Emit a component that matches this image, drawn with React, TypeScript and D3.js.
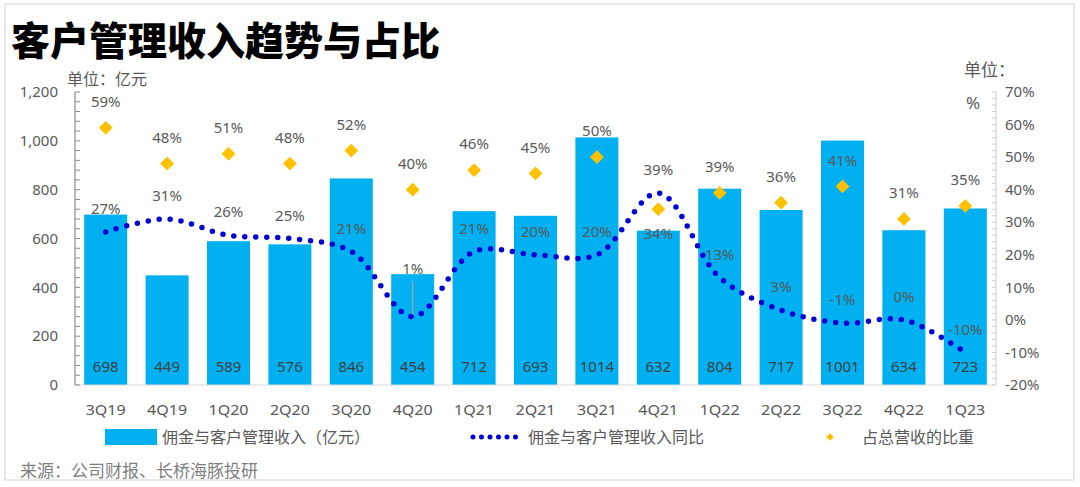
import { useEffect, useRef } from "react";
import * as d3 from "d3";

// quarters shown on the x axis
const quarters = [
  "3Q19", "4Q19", "1Q20", "2Q20", "3Q20", "4Q20", "1Q21", "2Q21",
  "3Q21", "4Q21", "1Q22", "2Q22", "3Q22", "4Q22", "1Q23",
];
// 佣金与客户管理收入（亿元）
const revenue = [698, 449, 589, 576, 846, 454, 712, 693, 1014, 632, 804, 717, 1001, 634, 723];
// 同比 (%)
const yoy = [27, 31, 26, 25, 21, 1, 21, 20, 20, 39, 13, 3, -1, 0, -10];
// 占总营收的比重 (%)
const share = [59, 48, 51, 48, 52, 40, 46, 45, 50, 34, 39, 36, 41, 31, 35];

const leftTicks = [0, 200, 400, 600, 800, 1000, 1200];
const rightTicks = [-20, -10, 0, 10, 20, 30, 40, 50, 60, 70];

const W = 1080;
const H = 487;
const FONT = "'Noto Sans CJK SC', 'Noto Sans', sans-serif";
const NUM_FONT = "'Noto Sans', 'Noto Sans CJK SC', sans-serif";
const GRAY = "#595959";
const BAR = "#00b0f0";
const LINE = "#0000d8";
const DIAMOND = "#ffc000";

export default function App() {
  const svgRef = useRef<SVGSVGElement>(null);

  useEffect(() => {
    if (!svgRef.current) return;
    const svg = d3.select(svgRef.current);
    svg.selectAll("*").remove();

    const margin = { top: 92, right: 84, bottom: 102, left: 75 };
    const innerW = W - margin.left - margin.right;
    const innerH = H - margin.top - margin.bottom;

    // frame
    svg.append("rect")
      .attr("x", 5).attr("y", 4).attr("width", 1069).attr("height", 476)
      .attr("fill", "white").attr("stroke", "#d9d9d9").attr("stroke-width", 1.2);

    // title
    svg.append("text")
      .attr("x", 11).attr("y", 55)
      .attr("font-family", FONT).attr("font-size", 39).attr("font-weight", 900)
      .attr("fill", "#000").text("客户管理收入趋势与占比");

    svg.append("text")
      .attr("x", 67).attr("y", 85)
      .attr("font-family", FONT).attr("font-size", 16).attr("fill", GRAY)
      .text("单位：亿元");
    svg.append("text")
      .attr("x", 964).attr("y", 76)
      .attr("font-family", FONT).attr("font-size", 17).attr("fill", GRAY)
      .text("单位：");
    svg.append("text")
      .attr("x", 966).attr("y", 109)
      .attr("font-family", NUM_FONT).attr("font-size", 17).attr("fill", GRAY)
      .text("%");

    const x = d3.scaleBand<string>().domain(quarters).range([0, innerW]).paddingInner(0.3).paddingOuter(0.15);
    const y = d3.scaleLinear().domain([0, 1200]).range([innerH, 0]);
    const y2 = d3.scaleLinear().domain([-20, 70]).range([innerH, 0]);
    const cx = (q: string) => (x(q) ?? 0) + x.bandwidth() / 2;

    const g = svg.append("g").attr("transform", `translate(${margin.left},${margin.top})`);

    // bars
    g.selectAll("rect.bar")
      .data(revenue)
      .join("rect")
      .attr("class", "bar")
      .attr("x", (_, i) => x(quarters[i]) ?? 0)
      .attr("y", (d) => y(d))
      .attr("width", x.bandwidth())
      .attr("height", (d) => innerH - y(d))
      .attr("fill", BAR);

    // bottom axis line
    g.append("line")
      .attr("x1", 0).attr("x2", innerW).attr("y1", innerH).attr("y2", innerH)
      .attr("stroke", "#d9d9d9").attr("stroke-width", 1);

    // left axis: line with minor ticks inside
    const leftAxis = g.append("g");
    leftAxis.append("line")
      .attr("x1", 0).attr("x2", 0).attr("y1", 0).attr("y2", innerH)
      .attr("stroke", "#8c8c8c").attr("stroke-width", 1.2);
    leftAxis.selectAll("line.minor")
      .data(d3.range(0, 1201, 40))
      .join("line")
      .attr("class", "minor")
      .attr("x1", 0).attr("x2", 5)
      .attr("y1", (d) => y(d)).attr("y2", (d) => y(d))
      .attr("stroke", "#8c8c8c").attr("stroke-width", 1);
    leftAxis.selectAll("text")
      .data(leftTicks)
      .join("text")
      .attr("x", -17).attr("y", (d) => y(d)).attr("dy", "0.35em")
      .attr("text-anchor", "end")
      .attr("font-family", NUM_FONT).attr("font-size", 15).attr("fill", GRAY)
      .text((d) => d3.format(",")(d));

    // right axis
    const rightAxis = g.append("g").attr("transform", `translate(${innerW},0)`);
    rightAxis.append("line")
      .attr("x1", 0).attr("x2", 0).attr("y1", 0).attr("y2", innerH)
      .attr("stroke", "#d0d0d0").attr("stroke-width", 1.2);
    rightAxis.selectAll("line.minor")
      .data(d3.range(-20, 70.1, 2))
      .join("line")
      .attr("class", "minor")
      .attr("x1", -4).attr("x2", 0)
      .attr("y1", (d) => y2(d)).attr("y2", (d) => y2(d))
      .attr("stroke", "#d0d0d0").attr("stroke-width", 1);
    rightAxis.selectAll("text")
      .data(rightTicks)
      .join("text")
      .attr("x", 9).attr("y", (d) => y2(d)).attr("dy", "0.35em")
      .attr("font-family", NUM_FONT).attr("font-size", 15).attr("fill", GRAY)
      .text((d) => `${d}%`);

    // x labels
    g.selectAll("text.xl")
      .data(quarters)
      .join("text")
      .attr("class", "xl")
      .attr("x", (d) => cx(d)).attr("y", innerH + 30)
      .attr("text-anchor", "middle")
      .attr("font-family", NUM_FONT).attr("font-size", 14).attr("fill", GRAY)
      .attr("textLength", 40).attr("lengthAdjust", "spacingAndGlyphs")
      .text((d) => d);

    // bar labels
    g.selectAll("text.bl")
      .data(revenue)
      .join("text")
      .attr("class", "bl")
      .attr("x", (_, i) => cx(quarters[i])).attr("y", innerH - 18).attr("dy", "0.35em")
      .attr("text-anchor", "middle")
      .attr("font-family", NUM_FONT).attr("font-size", 15).attr("fill", "#404040")
      .text((d) => d);

    // yoy dotted smooth line
    const line = d3.line<number>()
      .x((_, i) => cx(quarters[i]))
      .y((d) => y2(d))
      .curve(d3.curveCatmullRom.alpha(0.5));
    g.append("path")
      .attr("d", line(yoy))
      .attr("fill", "none")
      .attr("stroke", LINE)
      .attr("stroke-width", 5.5)
      .attr("stroke-linecap", "round")
      .attr("stroke-dasharray", "0 11");

    // yoy labels (4Q20 label pulled up with a leader line)
    const liftedIdx = 5;
    yoy.forEach((v, i) => {
      const px = cx(quarters[i]);
      const py = y2(v);
      const off = i === liftedIdx ? -48 : -23;
      if (i === liftedIdx) {
        g.append("line")
          .attr("x1", px).attr("x2", px).attr("y1", py + off + 12).attr("y2", py - 2)
          .attr("stroke", "#a6a6a6").attr("stroke-width", 1.2);
      }
      g.append("text")
        .attr("x", px).attr("y", py + off).attr("dy", "0.35em")
        .attr("text-anchor", "middle")
        .attr("font-family", NUM_FONT).attr("font-size", 15).attr("fill", GRAY)
        .text(`${v}%`);
    });

    // share diamonds
    const diamond = d3.symbol().type(d3.symbolSquare).size(95);
    g.selectAll("path.dm")
      .data(share)
      .join("path")
      .attr("class", "dm")
      .attr("d", diamond()!)
      .attr("transform", (d, i) => `translate(${cx(quarters[i])},${y2(d)}) rotate(45)`)
      .attr("fill", DIAMOND);

    // share labels (4Q21 placed below)
    const belowIdx = 9;
    share.forEach((v, i) => {
      g.append("text")
        .attr("x", cx(quarters[i]))
        .attr("y", y2(v) + (i === belowIdx ? 25 : -26)).attr("dy", "0.35em")
        .attr("text-anchor", "middle")
        .attr("font-family", NUM_FONT).attr("font-size", 15).attr("fill", GRAY)
        .text(`${v}%`);
    });

    // legend
    const lg = svg.append("g").attr("transform", "translate(0,437)");
    lg.append("rect").attr("x", 105).attr("y", -8).attr("width", 52).attr("height", 16).attr("fill", BAR);
    lg.append("text").attr("x", 162).attr("y", 0).attr("dy", "0.35em")
      .attr("font-family", FONT).attr("font-size", 16).attr("fill", GRAY)
      .text("佣金与客户管理收入（亿元）");
    lg.append("line").attr("x1", 473).attr("x2", 516).attr("y1", 0).attr("y2", 0)
      .attr("stroke", LINE).attr("stroke-width", 5).attr("stroke-linecap", "round")
      .attr("stroke-dasharray", "0 8.5");
    lg.append("text").attr("x", 528).attr("y", 0).attr("dy", "0.35em")
      .attr("font-family", FONT).attr("font-size", 16).attr("fill", GRAY)
      .text("佣金与客户管理收入同比");
    lg.append("path").attr("d", d3.symbol().type(d3.symbolSquare).size(28)()!)
      .attr("transform", "translate(830,0) rotate(45)").attr("fill", DIAMOND);
    lg.append("text").attr("x", 862).attr("y", 0).attr("dy", "0.35em")
      .attr("font-family", FONT).attr("font-size", 16).attr("fill", GRAY)
      .text("占总营收的比重");

    // source
    svg.append("text")
      .attr("x", 20).attr("y", 471).attr("dy", "0.35em")
      .attr("font-family", FONT).attr("font-size", 17).attr("fill", "#7f7f7f")
      .text("来源：公司财报、长桥海豚投研");
  }, []);

  return (
    <svg
      ref={svgRef}
      width={W}
      height={H}
      style={{ position: "fixed", left: 0, top: 0, background: "white" }}
    />
  );
}
